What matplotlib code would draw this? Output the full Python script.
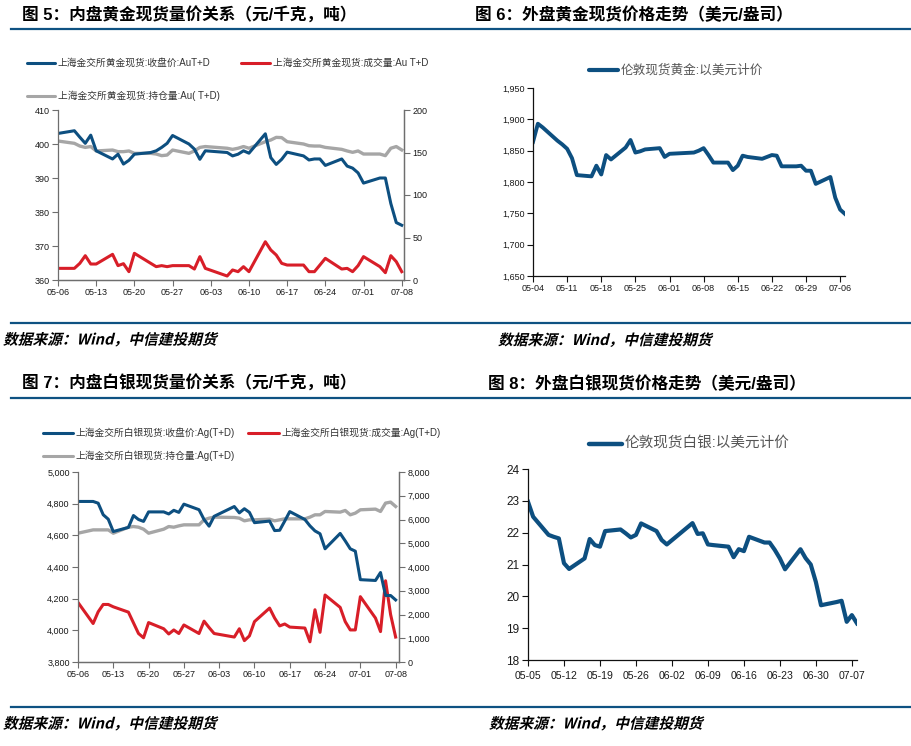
import matplotlib
matplotlib.use('Agg')
import matplotlib.pyplot as plt
import matplotlib.dates as mdates
import matplotlib.transforms as mtransforms
from matplotlib.lines import Line2D
from matplotlib.patches import PathPatch
from matplotlib.textpath import TextPath
from matplotlib.font_manager import FontProperties
import pandas as pd

plt.rcParams['font.family'] = ['Liberation Sans', 'Noto Sans CJK SC', 'DejaVu Sans']
plt.rcParams['axes.unicode_minus'] = False

BLUE = '#0d4f80'
RED = '#d81e28'
GRAY = '#a6a6a6'
RULE = '#0e5282'

# ---- data ----
# SGE trading days (Dragon Boat holiday 06-03)
sge_days = pd.bdate_range('2022-05-06', '2022-07-08')
sge_days = sge_days[sge_days != pd.Timestamp('2022-06-03')]
# London trading days (Jubilee holidays 06-02, 06-03)
lon_gold_days = pd.bdate_range('2022-05-04', '2022-07-07')
lon_gold_days = lon_gold_days[~lon_gold_days.isin(pd.to_datetime(['2022-06-02', '2022-06-03']))]
lon_silver_days = pd.bdate_range('2022-05-05', '2022-07-08')
lon_silver_days = lon_silver_days[~lon_silver_days.isin(pd.to_datetime(['2022-06-02', '2022-06-03']))]

au_close = [403.1,
            403.9, 402.0, 400.2, 402.6, 398.0,
            395.6, 397.0, 394.1, 395.2, 397.0,
            397.5, 398.0, 399.0, 400.2, 402.5,
            400.0, 398.5, 395.5, 398.0,
            397.5, 396.5, 397.0, 398.0, 397.3,
            403.0, 396.0, 394.0, 395.5, 397.6,
            396.5, 395.3, 395.6, 395.6, 393.7,
            395.6, 393.5, 392.9, 391.5, 388.5,
            390.0, 390.0, 382.5, 376.9, 376.1]
au_vol = [13.7,
          13.7, 19.6, 28.6, 18.8, 18.8,
          30.2, 16.9, 19.2, 9.8, 31.4,
          19.6, 15.7, 16.9, 15.7, 16.9,
          16.9, 12.9, 27.5, 13.7,
          4.7, 11.8, 9.8, 15.7, 9.8,
          45.0, 35.3, 29.4, 19.6, 17.6,
          17.6, 9.8, 9.8, 17.6, 25.5,
          12.9, 13.7, 9.8, 16.9, 27.5,
          15.7, 8.6, 28.6, 21.6, 9.8]
au_oi = [163.5,
         160.8, 157.6, 156.0, 157.0, 151.8,
         152.9, 151.0, 151.0, 151.8, 149.0,
         149.0, 148.2, 146.3, 147.0, 152.9,
         149.0, 151.8, 156.0, 157.0,
         155.0, 153.7, 155.0, 157.0, 155.0,
         162.7, 164.7, 167.8, 167.5, 162.7,
         160.0, 158.0, 157.6, 157.6, 156.0,
         153.7, 151.8, 150.2, 151.8, 148.2,
         148.2, 146.3, 155.0, 157.0, 153.0]

lon_gold = [1864, 1893, 1887,
            1866, 1860, 1853, 1838, 1811,
            1809, 1826, 1812, 1843, 1836,
            1855, 1867, 1847, 1849, 1852,
            1854, 1840, 1845,
            1847, 1850, 1854, 1843, 1831,
            1831, 1819, 1826, 1842, 1840,
            1837, 1840, 1843, 1842, 1825,
            1825, 1826, 1818, 1818, 1797,
            1808, 1775, 1756, 1749]

ag_close = [4814,
            4814, 4803, 4730, 4702, 4624,
            4650, 4725, 4700, 4688, 4748,
            4748, 4735, 4758, 4745, 4797,
            4762, 4700, 4658, 4720,
            4782, 4742, 4768, 4745, 4680,
            4690, 4630, 4632, 4690, 4750,
            4700, 4660, 4628, 4610, 4515,
            4612, 4565, 4515, 4500, 4320,
            4315, 4365, 4220, 4220, 4192]
ag_vol = [2507,
          1620, 2113, 2423, 2423, 2324,
          2100, 1650, 1200, 1020, 1660,
          1400, 1180, 1350, 1200, 1560,
          1200, 1720, 1450, 1200,
          1050, 1400, 900, 1100, 1700,
          2270, 1850, 1520, 1600, 1470,
          1430, 850, 2200, 1250, 2820,
          2300, 1700, 1350, 1350, 2750,
          1850, 1280, 3420, 2000, 1050]
ag_oi = [5423,
         5563, 5563, 5563, 5563, 5423,
         5676, 5704, 5676, 5592, 5423,
         5592, 5704, 5676, 5732, 5775,
         5775, 5986, 6056, 6099,
         6085, 6056, 5944, 5986, 5986,
         6014, 5944, 5986, 6028, 6028,
         6028, 6099, 6197, 6197, 6338,
         6310, 6380, 6197, 6268, 6408,
         6437, 6338, 6690, 6732, 6549]

lon_silver = [22.97, 22.50,
              21.93, 21.87, 21.82, 21.04, 20.86,
              21.19, 21.80, 21.61, 21.56, 22.05,
              22.10, 21.98, 21.85, 21.93, 22.29,
              22.05, 21.77, 21.63,
              22.30, 21.96, 21.98, 21.63, 21.61,
              21.56, 21.23, 21.48, 21.42, 21.87,
              21.69, 21.69, 21.46, 21.19, 20.85,
              21.48, 21.20, 21.00, 20.45, 19.72,
              19.82, 19.86, 19.20, 19.41, 19.15]

titles = ['图 5：内盘黄金现货量价关系（元/千克，吨）',
          '图 6：外盘黄金现货价格走势（美元/盎司）',
          '图 7：内盘白银现货量价关系（元/千克，吨）',
          '图 8：外盘白银现货价格走势（美元/盎司）']
source = '数据来源：Wind，中信建投期货'

# ---- figure ----
W, H = 912, 746
fig = plt.figure(figsize=(W / 100, H / 100), dpi=100)


def px_axes(l, t, r, b):
    return fig.add_axes([l / W, 1 - b / H, (r - l) / W, (b - t) / H])


def hrule(y):
    fig.add_artist(Line2D([11 / W, 1], [1 - y / H] * 2, color=RULE, lw=1.6))


def legend_item(x, y, length, color, lw, label, size, tcolor='#333333'):
    fig.add_artist(Line2D([x / W, (x + length) / W], [1 - y / H] * 2,
                          color=color, lw=lw, solid_capstyle='round'))
    fig.text((x + length + 3) / W, 1 - y / H, label, fontsize=size,
             va='center', ha='left', color=tcolor)


def slanted(x, y, s, size=10.6):
    fp = FontProperties(family='Noto Sans CJK SC', weight='bold')
    tp = TextPath((0, 0), s, size=size, prop=fp)
    tr = mtransforms.Affine2D().skew_deg(14, 0).scale(fig.dpi / 72).translate(x, H - y)
    fig.add_artist(PathPatch(tp, transform=tr, facecolor='black', edgecolor='none'))


def style(ax, color, size=6.5, right=False):
    ax.spines['top'].set_visible(False)
    if not right:
        ax.spines['right'].set_visible(False)
    for s in ax.spines.values():
        s.set_color(color)
        s.set_linewidth(0.9)
    ax.tick_params(direction='out', length=4, width=0.8, color=color,
                   labelcolor='#1a1a1a', labelsize=size, pad=2)
    ax.xaxis.set_major_formatter(mdates.DateFormatter('%m-%d'))


for y in (29, 322.7, 397.7, 706.7):
    hrule(y)

fig.text(22 / W, 1 - 15 / H, titles[0], fontsize=12, fontweight='bold', va='center')
fig.text(475 / W, 1 - 15 / H, titles[1], fontsize=12, fontweight='bold', va='center')
fig.text(22 / W, 1 - 383 / H, titles[2], fontsize=12, fontweight='bold', va='center')
fig.text(488 / W, 1 - 384 / H, titles[3], fontsize=12, fontweight='bold', va='center')

slanted(3, 344.5, source)
slanted(498, 345, source)
slanted(3, 728.5, source)
slanted(489, 728.5, source)

# panel 1: SGE gold
legend_item(27, 63, 28, BLUE, 2.2, '上海金交所黄金现货:收盘价:AuT+D', 7)
legend_item(241, 63, 29, RED, 2.2, '上海金交所黄金现货:成交量:Au T+D', 7)
legend_item(27, 96, 28, GRAY, 2.2, '上海金交所黄金现货:持仓量:Au( T+D)', 7)

ax1 = px_axes(58, 110, 404, 280)
ax1b = ax1.twinx()
ax1b.plot(sge_days, au_oi, color=GRAY, lw=2.4)
ax1b.plot(sge_days, au_vol, color=RED, lw=2.2)
ax1.plot(sge_days, au_close, color=BLUE, lw=2.2)
ax1.set_zorder(ax1b.get_zorder() + 1)
ax1.patch.set_visible(False)
ax1.set_ylim(360, 410)
ax1.set_yticks(range(360, 411, 10))
ax1b.set_ylim(0, 200)
ax1b.set_yticks(range(0, 201, 50))
ax1.set_xlim(sge_days[0], sge_days[-1] + pd.Timedelta(hours=10))
ax1.set_xticks(pd.date_range('2022-05-06', '2022-07-08', freq='7D'))
style(ax1, '#6e6e6e', right=True)
style(ax1b, '#6e6e6e', right=True)
ax1b.spines['left'].set_visible(False)

# panel 2: London gold
legend_item(589, 70, 29, BLUE, 3.0, '伦敦现货黄金:以美元计价', 9.1, '#555555')
ax2 = px_axes(533, 88, 845, 276)
ax2.plot(lon_gold_days, lon_gold, color=BLUE, lw=2.8)
ax2.set_ylim(1650, 1950)
ax2.set_yticks(range(1650, 1951, 50))
ax2.yaxis.set_major_formatter(matplotlib.ticker.StrMethodFormatter('{x:,.0f}'))
ax2.set_xlim(lon_gold_days[0], lon_gold_days[-1])
ax2.set_xticks(pd.date_range('2022-05-04', '2022-07-07', freq='7D'))
style(ax2, '#111111')

# panel 3: SGE silver
legend_item(43, 433, 30, BLUE, 2.2, '上海金交所白银现货:收盘价:Ag(T+D)', 7)
legend_item(248, 433, 31, RED, 2.2, '上海金交所白银现货:成交量:Ag(T+D)', 7)
legend_item(43, 456, 30, GRAY, 2.2, '上海金交所白银现货:持仓量:Ag(T+D)', 7)

ax3 = px_axes(78, 472, 399, 662)
ax3b = ax3.twinx()
ax3b.plot(sge_days, ag_oi, color=GRAY, lw=2.4)
ax3b.plot(sge_days, ag_vol, color=RED, lw=2.2)
ax3.plot(sge_days, ag_close, color=BLUE, lw=2.2)
ax3.set_zorder(ax3b.get_zorder() + 1)
ax3.patch.set_visible(False)
ax3.set_ylim(3800, 5000)
ax3.set_yticks(range(3800, 5001, 200))
ax3b.set_ylim(0, 8000)
ax3b.set_yticks(range(0, 8001, 1000))
fmt = matplotlib.ticker.StrMethodFormatter('{x:,.0f}')
ax3.yaxis.set_major_formatter(fmt)
ax3b.yaxis.set_major_formatter(fmt)
ax3.set_xlim(sge_days[0], sge_days[-1] + pd.Timedelta(hours=16))
ax3.set_xticks(pd.date_range('2022-05-06', '2022-07-08', freq='7D'))
style(ax3, '#6e6e6e', right=True)
style(ax3b, '#6e6e6e', right=True)
ax3b.spines['left'].set_visible(False)

# panel 4: London silver
legend_item(589, 444, 33, BLUE, 3.2, '伦敦现货白银:以美元计价', 10.5, '#555555')
ax4 = px_axes(528, 469, 857, 660)
ax4.plot(lon_silver_days, lon_silver, color=BLUE, lw=3.0)
ax4.set_ylim(18, 24)
ax4.set_yticks(range(18, 25))
ax4.set_xlim(lon_silver_days[0], lon_silver_days[-1])
ax4.set_xticks(pd.date_range('2022-05-05', '2022-07-07', freq='7D'))
style(ax4, '#111111', size=7.6)
ax4.tick_params(axis='x', pad=4)
ax4.tick_params(axis='y', labelsize=8.5)

fig.savefig('out.png', dpi=100)
